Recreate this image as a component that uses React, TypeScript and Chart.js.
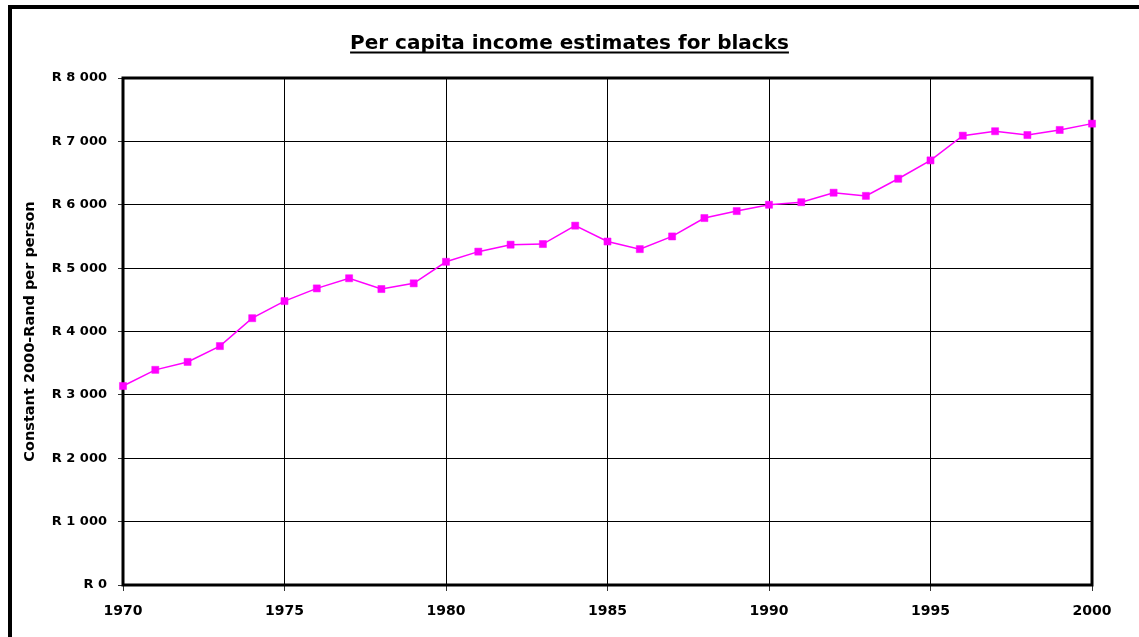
import { useEffect, useRef } from "react";
import { Chart, registerables } from "chart.js";

Chart.register(...registerables);

const years = [
  1970, 1971, 1972, 1973, 1974, 1975, 1976, 1977, 1978, 1979,
  1980, 1981, 1982, 1983, 1984, 1985, 1986, 1987, 1988, 1989,
  1990, 1991, 1992, 1993, 1994, 1995, 1996, 1997, 1998, 1999, 2000,
];
const income = [
  3140, 3395, 3520, 3770, 4210, 4480, 4680, 4840, 4670, 4760,
  5100, 5260, 5370, 5380, 5670, 5420, 5300, 5500, 5790, 5900,
  6000, 6040, 6190, 6140, 6410, 6700, 7090, 7160, 7100, 7180, 7280,
];
const titleText = "Per capita income estimates for blacks";
const yTitle = "Constant 2000-Rand per person";
const FONT = "'DejaVu Sans', 'Liberation Sans', Arial, sans-serif";

const randLabel = (v: number) => {
  if (v < 1000) return "R " + v;
  return "R " + Math.floor(v / 1000) + " " + String(v % 1000).padStart(3, "0");
};

// underlined title + thick plot frame
const decorations = {
  id: "decorations",
  beforeDatasetsDraw(chart: any) {
    const { ctx, chartArea: a } = chart;
    ctx.save();
    ctx.strokeStyle = "#000";
    ctx.lineWidth = 3;
    ctx.strokeRect(a.left, a.top, a.right - a.left, a.bottom - a.top);
    ctx.restore();
  },
  afterDraw(chart: any) {
    const { ctx, width } = chart;
    ctx.save();
    ctx.font = `bold 20px ${FONT}`;
    ctx.fillStyle = "#000";
    ctx.textAlign = "center";
    ctx.textBaseline = "alphabetic";
    const cx = width / 2;
    ctx.fillText(titleText, cx, 49);
    const w = ctx.measureText(titleText).width;
    ctx.fillRect(cx - w / 2, 51.5, w, 2);
    ctx.restore();
  },
};

export default function App() {
  const canvasRef = useRef<HTMLCanvasElement>(null);
  const chartRef = useRef<Chart | null>(null);

  useEffect(() => {
    if (!canvasRef.current) return;
    const ctx = canvasRef.current.getContext("2d");
    if (!ctx) return;

    chartRef.current = new Chart(ctx, {
      type: "line",
      data: {
        datasets: [
          {
            label: "Income",
            data: years.map((y, i) => ({ x: y, y: income[i] })),
            borderColor: "#FF00FF",
            backgroundColor: "#FF00FF",
            borderWidth: 1.5,
            tension: 0,
            pointStyle: "rect",
            pointRadius: 5,
            pointBackgroundColor: "#FF00FF",
            pointBorderColor: "#FF00FF",
            pointBorderWidth: 0.5,
            clip: false,
          },
        ],
      },
      options: {
        animation: false,
        responsive: true,
        maintainAspectRatio: false,
        layout: { padding: { top: 78, right: 47, left: 0, bottom: 0 } },
        plugins: {
          legend: { display: false },
          title: { display: false },
          tooltip: { enabled: false },
        },
        scales: {
          x: {
            type: "linear",
            min: 1970,
            max: 2000,
            afterFit: (s: any) => {
              s.height = 52;
            },
            border: { display: false },
            grid: { color: "#000", lineWidth: 1, tickLength: 6, tickColor: "#333" },
            ticks: {
              stepSize: 5,
              padding: 12,
              color: "#000",
              font: { family: FONT, size: 14, weight: "bold" },
              callback: (v: any) => String(v),
              maxRotation: 0,
            },
          },
          y: {
            min: 0,
            max: 8000,
            afterFit: (s: any) => {
              s.width = 123;
            },
            border: { display: false },
            grid: { color: "#000", lineWidth: 1, tickLength: 5, tickColor: "#333" },
            ticks: {
              stepSize: 1000,
              padding: 11,
              color: "#000",
              font: { family: FONT, size: 13, weight: "bold" },
              callback: (v: any) => randLabel(Number(v)),
            },
            title: {
              display: true,
              text: yTitle,
              color: "#000",
              font: { family: FONT, size: 14.5, weight: "bold" },
              padding: { top: 22, bottom: 0 },
            },
          },
        },
      },
      plugins: [decorations],
    });

    return () => {
      if (chartRef.current) {
        chartRef.current.destroy();
        chartRef.current = null;
      }
    };
  }, []);

  return (
    <div
      style={{
        position: "absolute",
        left: 0,
        top: 0,
        width: 1139,
        height: 637,
        overflow: "hidden",
        background: "#fff",
      }}
    >
      <div
        style={{
          position: "absolute",
          left: 8,
          top: 5,
          width: 1300,
          height: 800,
          border: "4px solid #000",
        }}
      />
      <div style={{ position: "absolute", left: 0, top: 0, width: 1139, height: 637 }}>
        <canvas ref={canvasRef}></canvas>
      </div>
    </div>
  );
}
